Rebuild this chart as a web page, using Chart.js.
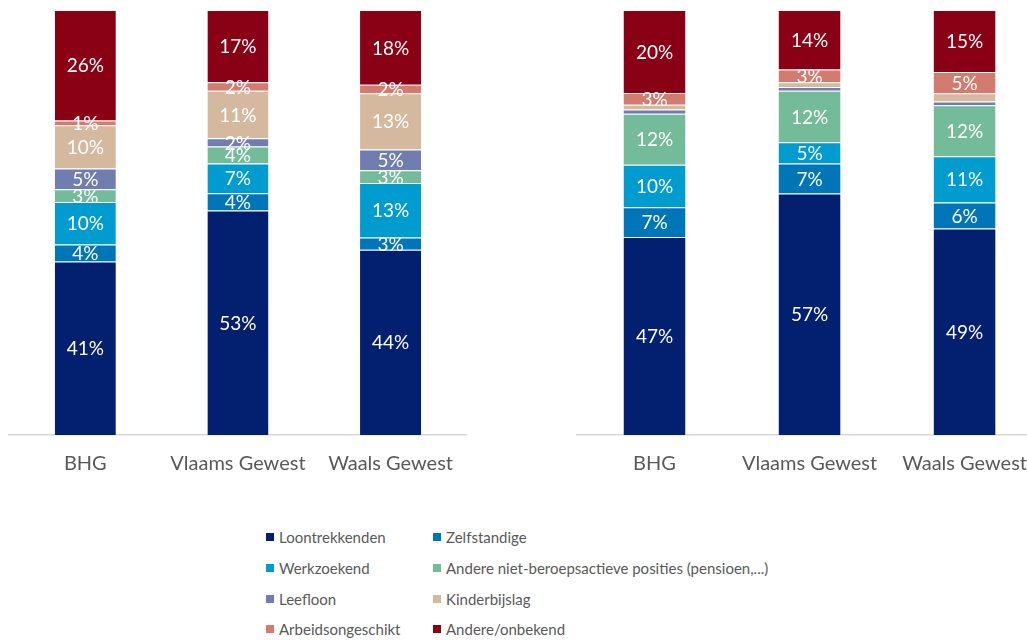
<!DOCTYPE html>
<html>
<head>
<meta charset="utf-8">
<script src="https://cdn.jsdelivr.net/npm/chart.js@4.4.1/dist/chart.umd.min.js"></script>
<style>
  html, body { margin: 0; padding: 0; background: #fff; overflow: hidden; }
  body { width: 1027px; height: 642px; position: relative; font-family: Lato, sans-serif; }
  #leftChart { position: absolute; left: 0; top: 0; }
  #rightChart { position: absolute; left: 568px; top: 0; }
  #legend {
    position: absolute; left: 266px; top: 522px;
    display: grid; grid-template-columns: 167px auto; grid-auto-rows: 30.7px;
    font-size: 15px; color: #595959;
  }
  #legend div { display: flex; align-items: center; white-space: nowrap; }
  #legend span.box { width: 8px; height: 8px; margin-right: 5px; display: inline-block; }
</style>
</head>
<body>
<canvas id="leftChart" width="470" height="493"></canvas>
<canvas id="rightChart" width="476" height="493"></canvas>
<div id="legend"></div>
<script>
const regions = ['BHG', 'Vlaams Gewest', 'Waals Gewest']

const seriesNames = [
  'Loontrekkenden',
  'Zelfstandige',
  'Werkzoekend',
  'Andere niet-beroepsactieve posities (pensioen,...)',
  'Leefloon',
  'Kinderbijslag',
  'Arbeidsongeschikt',
  'Andere/onbekend',
]

const seriesColors = ['#021f70', '#0075b8', '#009bcf', '#73bb99', '#6f7db1', '#d5b99f', '#d47b6f', '#8a0014']

// left chart, per series: [BHG, Vlaams Gewest, Waals Gewest] (%)
const leftLoontrekkenden = [40.8, 52.8, 43.6]
const leftZelfstandige = [4.0, 4.1, 2.9]
const leftWerkzoekend = [10.0, 7.0, 12.8]
const leftAndereNietActief = [3.0, 4.0, 3.0]
const leftLeefloon = [4.9, 1.9, 4.9]
const leftKinderbijslag = [10.2, 11.2, 13.2]
const leftArbeidsongeschikt = [1.1, 2.0, 2.0]
const leftAndereOnbekend = [26.0, 17.0, 17.6]

// right chart
const rightLoontrekkenden = [46.6, 56.8, 48.6]
const rightZelfstandige = [7.0, 7.1, 6.1]
const rightWerkzoekend = [10.0, 5.0, 10.9]
const rightAndereNietActief = [12.0, 12.1, 12.0]
const rightLeefloon = [1.0, 0.9, 0.9]
const rightKinderbijslag = [1.1, 1.1, 1.9]
const rightArbeidsongeschikt = [2.8, 3.0, 5.0]
const rightAndereOnbekend = [19.5, 14.0, 14.6]

const leftSeries = [leftLoontrekkenden, leftZelfstandige, leftWerkzoekend, leftAndereNietActief,
  leftLeefloon, leftKinderbijslag, leftArbeidsongeschikt, leftAndereOnbekend]
const rightSeries = [rightLoontrekkenden, rightZelfstandige, rightWerkzoekend, rightAndereNietActief,
  rightLeefloon, rightKinderbijslag, rightArbeidsongeschikt, rightAndereOnbekend]

// draws the % value in the middle of each segment
const segmentLabels = {
  id: 'segmentLabels',
  afterDatasetsDraw(chart, args, opts) {
    const ctx = chart.ctx
    ctx.save()
    ctx.font = '19px Lato'
    ctx.fillStyle = '#ffffff'
    ctx.textAlign = 'center'
    ctx.textBaseline = 'middle'
    chart.data.datasets.forEach((ds, i) => {
      chart.getDatasetMeta(i).data.forEach((bar, j) => {
        const v = ds.data[j]
        if (v < opts.minValue) return
        const p = bar.getCenterPoint()
        ctx.fillText(Math.round(v) + '%', p.x, p.y + 1)
      })
    })
    ctx.restore()
  },
}

function makeChart(id, series, minLabel, padLeft) {
  return new Chart(document.getElementById(id), {
    type: 'bar',
    data: {
      labels: regions,
      datasets: series.map((d, i) => ({
        label: seriesNames[i],
        data: d,
        backgroundColor: seriesColors[i],
        borderColor: 'rgba(255,255,255,0.55)',
        borderWidth: { top: 1, bottom: 0, left: 0, right: 0 },
        borderSkipped: false,
        barPercentage: 0.4,
        categoryPercentage: 1,
      })),
    },
    options: {
      responsive: false,
      animation: false,
      layout: { padding: { top: 10, left: padLeft, right: 0 } },
      plugins: {
        legend: { display: false },
        tooltip: { enabled: false },
        segmentLabels: { minValue: minLabel },
      },
      scales: {
        x: {
          stacked: true,
          grid: { display: false, drawTicks: false },
          border: { color: '#d9d9d9', width: 1.5 },
          ticks: { color: '#595959', font: { family: 'Lato', size: 20 }, padding: 17 },
        },
        y: { stacked: true, display: false, min: 0, max: 100 },
      },
    },
    plugins: [segmentLabels],
  })
}

makeChart('leftChart', leftSeries, 0, 9)
makeChart('rightChart', rightSeries, 2.5, 9)

// two-column legend like the original
const legendEl = document.getElementById('legend')
seriesNames.forEach((name, i) => {
  const item = document.createElement('div')
  item.innerHTML = '<span class="box" style="background:' + seriesColors[i] + '"></span>' + name
  legendEl.appendChild(item)
})
</script>
</body>
</html>
